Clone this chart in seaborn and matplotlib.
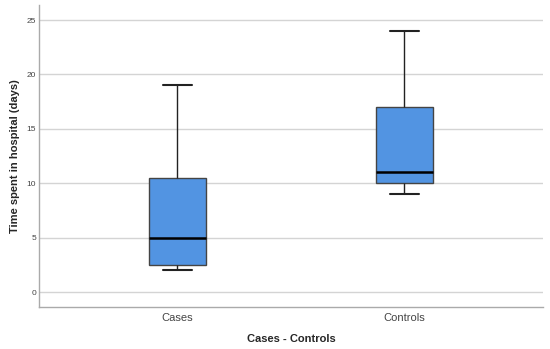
import numpy as np
import pandas as pd
import matplotlib
matplotlib.use('Agg')
import matplotlib.pyplot as plt
import seaborn as sns

# Five-number summaries (min, Q1, median, Q3, max)
groups = ['Cases', 'Controls']
cases_days = [2, 2.5, 5, 10.5, 19]
controls_days = [9, 10, 11, 17, 24]
y_ticks = [0, 5, 10, 15, 20, 25]

df = pd.DataFrame({
    'group': [groups[0]] * len(cases_days) + [groups[1]] * len(controls_days),
    'days': cases_days + controls_days,
})

sns.set_style('white')
plt.rcParams['font.family'] = ['Liberation Sans', 'DejaVu Sans']

fig = plt.figure(figsize=(5.5, 3.49), dpi=100)
ax = fig.add_axes([0.0709, 0.1203, 0.9161, 0.8654])

for y in y_ticks:
    ax.axhline(y, color='#d4d4d4', lw=1.0, zorder=0)

sns.boxplot(data=df, x='group', y='days', order=groups, ax=ax,
            color='#5294e2', saturation=1, width=0.25, whis=1.5,
            linecolor='#333333', linewidth=1.0,
            medianprops=dict(color='black', lw=1.8),
            whiskerprops=dict(color='#222222', lw=1.0),
            capprops=dict(color='#222222', lw=1.5),
            boxprops=dict(edgecolor='#444444', lw=1.0),
            zorder=2)

ax.set_xlim(-0.61, 1.61)
ax.set_ylim(-1.38, 26.38)
ax.set_yticks(y_ticks)
ax.tick_params(axis='y', labelsize=6, colors='#444444', length=0, pad=2)
ax.tick_params(axis='x', labelsize=8, colors='#444444', length=0, pad=4)
for s in ['top', 'right']:
    ax.spines[s].set_visible(False)
for s in ['left', 'bottom']:
    ax.spines[s].set_color('#aaaaaa')
    ax.spines[s].set_linewidth(1.0)

ax.set_xlabel('Cases - Controls', fontsize=8, fontweight='bold', labelpad=8)
ax.set_ylabel('Time spent in hospital (days)', fontsize=8, fontweight='bold', labelpad=5)

fig.savefig('out.png', dpi=100)
plt.close(fig)
